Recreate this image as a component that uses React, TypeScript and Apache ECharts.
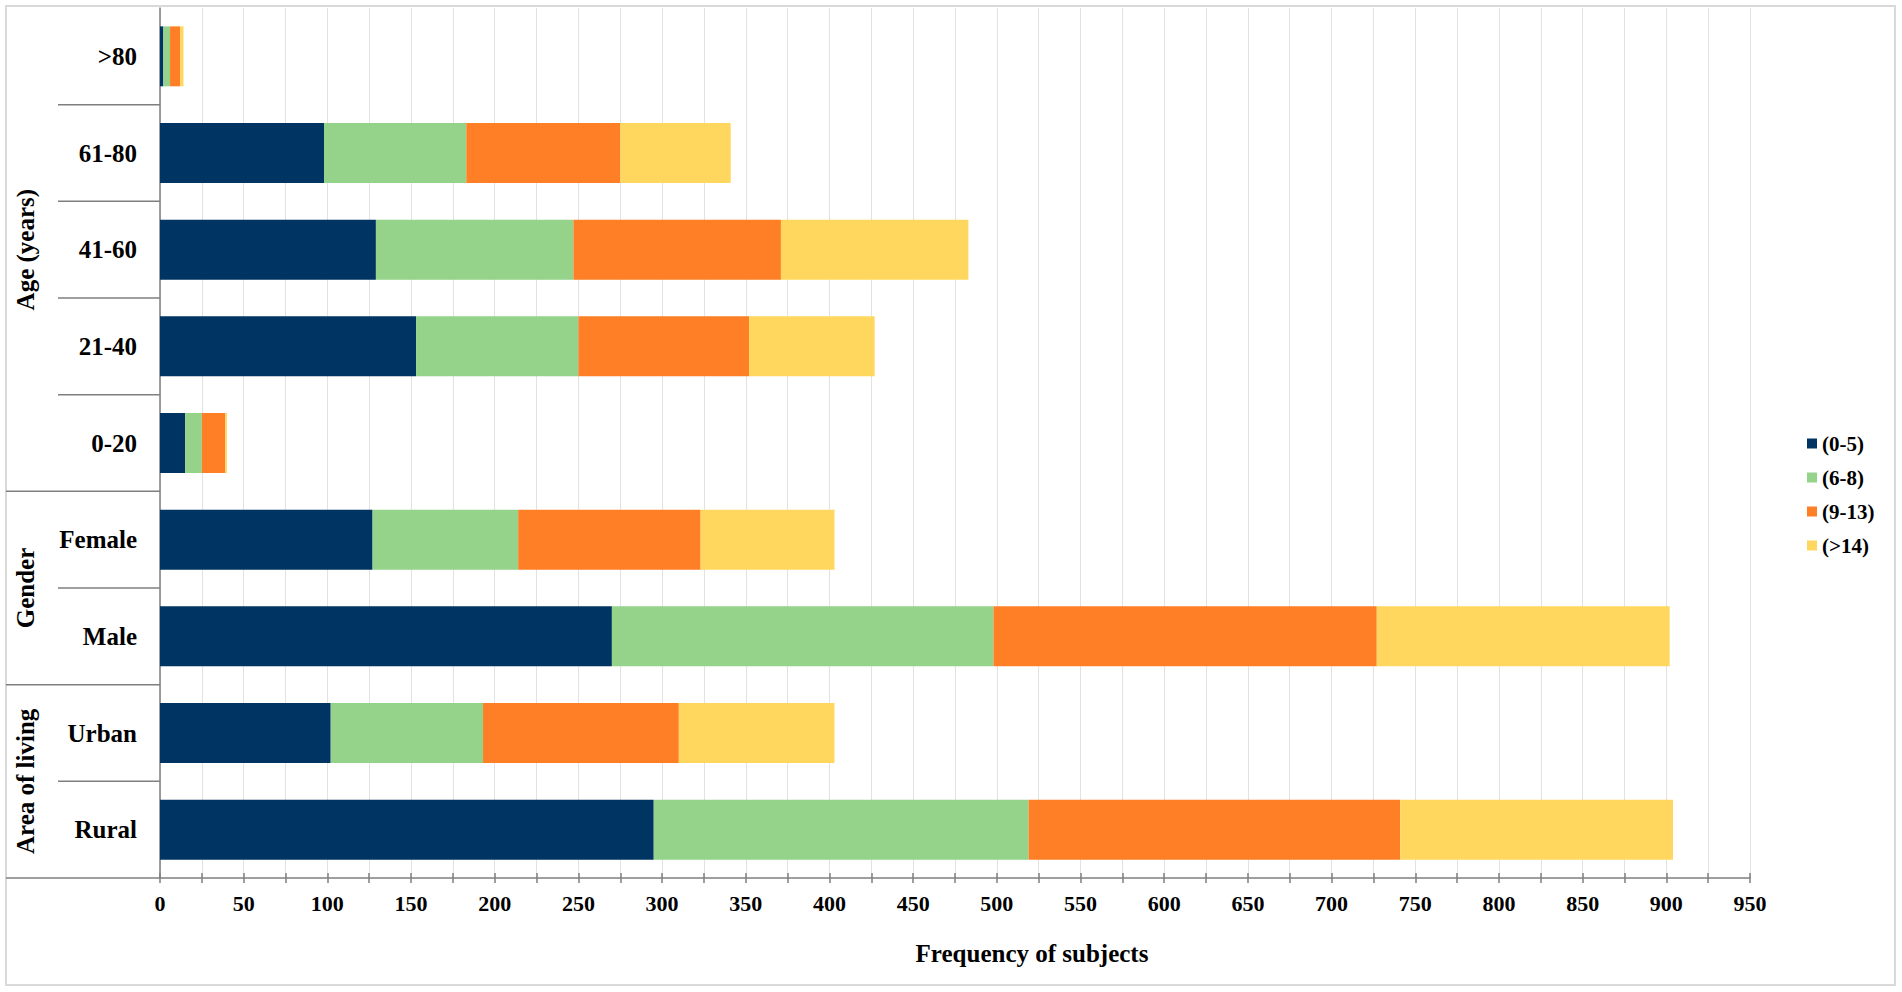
import React, { useEffect, useRef } from "react";
import * as echarts from "echarts";

// Categories (bottom to top, as ECharts draws a category y axis)
const categories = ["Rural", "Urban", "Male", "Female", "0-20", "21-40", "41-60", "61-80", ">80"];
const seriesNames = ["(0-5)", "(6-8)", "(9-13)", "(>14)"];
const values05 = [295, 102, 270, 127, 15, 153, 129, 98, 2];
const values68 = [224, 91, 228, 87, 10, 97, 118, 85, 4];
const values913 = [222, 117, 229, 109, 14, 102, 124, 92, 6];
const values14 = [163, 93, 175, 80, 1, 75, 112, 66, 2];
const seriesColors = ["#003462", "#95d28a", "#ff7f27", "#ffd75e"];
const groups = [
  { name: "Area of living", from: 0, to: 1 },
  { name: "Gender", from: 2, to: 3 },
  { name: "Age (years)", from: 4, to: 8 },
];
const xMin = 0;
const xMax = 950;
const tickStep = 25;
const labelStep = 50;
const axisTitle = "Frequency of subjects";

const FONT = '"Liberation Serif", "Times New Roman", serif';
const AXIS_GRAY = "#7f7f7f";

export default function App() {
  const ref = useRef<HTMLDivElement>(null);

  useEffect(() => {
    document.body.style.margin = "0";
    document.body.style.overflow = "hidden";
    if (!ref.current) return;
    const chart = echarts.init(ref.current, undefined, { renderer: "svg" });
    const allValues = [values05, values68, values913, values14];

    const option: any = {
      animation: false,
      grid: { left: 160, right: 152, top: 8, bottom: 114, containLabel: false },
      legend: {
        orient: "vertical",
        left: 1802,
        top: 428,
        itemWidth: 10,
        itemHeight: 10,
        itemGap: 13,
        icon: "rect",
        data: seriesNames,
        textStyle: { fontFamily: FONT, fontSize: 21, fontWeight: "bold", color: "#000" },
      },
      xAxis: [
        {
          type: "value",
          min: xMin,
          max: xMax,
          interval: tickStep,
          axisLine: { show: true, lineStyle: { color: AXIS_GRAY, width: 1.5 } },
          axisTick: { show: true, length: 5, lineStyle: { color: AXIS_GRAY, width: 1.5 } },
          axisLabel: {
            formatter: (v: number) => (v % labelStep === 0 ? String(v) : ""),
            margin: 14,
            fontFamily: FONT,
            fontSize: 22,
            fontWeight: "bold",
            color: "#000",
          },
          splitLine: { show: true, lineStyle: { color: "#e2e2e2", width: 1 } },
        },
        {
          type: "value",
          position: "bottom",
          min: xMin,
          max: xMax,
          interval: tickStep,
          axisLine: { show: false },
          axisTick: { show: true, inside: true, length: 5, lineStyle: { color: AXIS_GRAY, width: 1.5 } },
          axisLabel: { show: false },
          splitLine: { show: false },
        },
      ],
      yAxis: {
        type: "category",
        data: categories,
        axisLine: { show: true, lineStyle: { color: AXIS_GRAY, width: 1.5 } },
        axisTick: { show: false },
        axisLabel: {
          margin: 23,
          fontFamily: FONT,
          fontSize: 25,
          fontWeight: "bold",
          color: "#000",
        },
        splitLine: { show: false },
      },
      series: seriesNames.map((name, i) => ({
        name,
        type: "bar",
        stack: "total",
        xAxisIndex: 0,
        barCategoryGap: "38%",
        data: allValues[i],
        itemStyle: { color: seriesColors[i] },
      })),
    };
    chart.setOption(option);

    // Separators and group labels from the chart's own scales
    const x0 = chart.convertToPixel({ xAxisIndex: 0 }, 0) as number;
    const yc = categories.map((_, i) => chart.convertToPixel({ yAxisIndex: 0 }, i) as number);
    const band = Math.abs(yc[0] - yc[1]);
    const groupEnds = groups.map((g) => g.to);
    const elements: any[] = [
      {
        type: "rect",
        silent: true,
        shape: { x: 6, y: 6, width: 1889, height: 979 },
        style: { fill: "none", stroke: "#d9d9d9", lineWidth: 2 },
      },
      {
        type: "text",
        x: 1032,
        y: 953,
        silent: true,
        style: {
          text: axisTitle,
          fontFamily: FONT,
          fontSize: 25,
          fontWeight: "bold",
          fill: "#000",
          align: "center",
          verticalAlign: "middle",
        },
      },
      {
        type: "line",
        silent: true,
        shape: { x1: 6, y1: yc[0] + band / 2, x2: x0, y2: yc[0] + band / 2 },
        style: { stroke: AXIS_GRAY, lineWidth: 1.5 },
      },
    ];
    for (let i = 0; i < categories.length - 1; i++) {
      const y = (yc[i] + yc[i + 1]) / 2;
      const full = groupEnds.includes(i);
      elements.push({
        type: "line",
        silent: true,
        shape: { x1: full ? 6 : 58, y1: y, x2: x0, y2: y },
        style: { stroke: AXIS_GRAY, lineWidth: 1.5 },
      });
    }
    groups.forEach((g) => {
      const yBottom = yc[g.from] + band / 2;
      const yTop = yc[g.to] - band / 2;
      elements.push({
        type: "text",
        silent: true,
        x: 25,
        y: (yBottom + yTop) / 2,
        rotation: Math.PI / 2,
        style: {
          text: g.name,
          fontFamily: FONT,
          fontSize: 25,
          fontWeight: "bold",
          fill: "#000",
          align: "center",
          verticalAlign: "middle",
        },
      });
    });
    chart.setOption({ graphic: { elements } });

    return () => chart.dispose();
  }, []);

  return <div ref={ref} style={{ width: 1902, height: 992 }} />;
}
